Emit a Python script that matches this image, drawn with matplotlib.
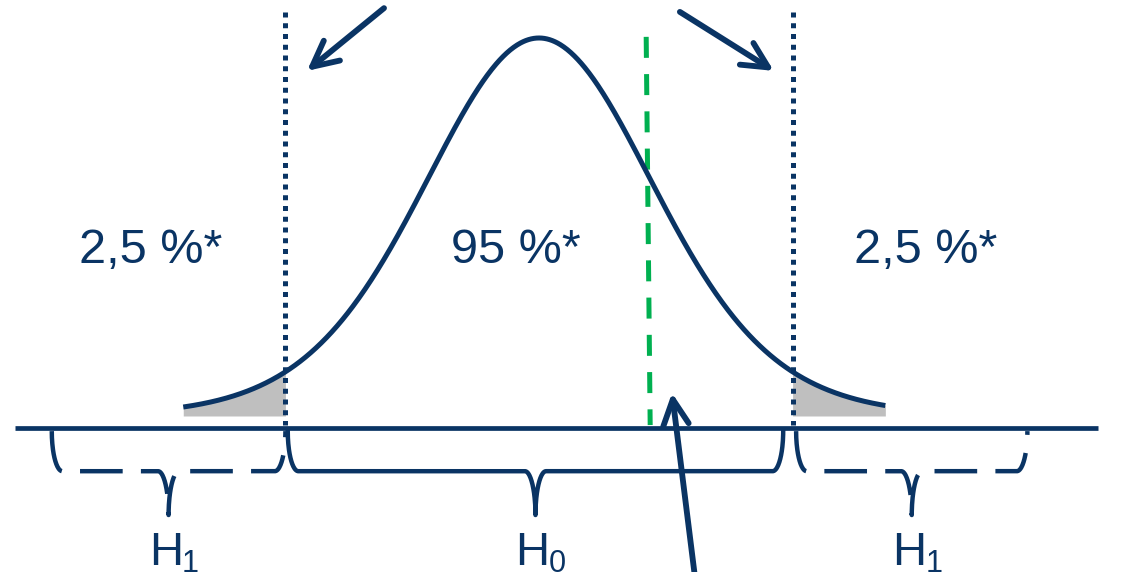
import numpy as np
import matplotlib
matplotlib.use("Agg")
import matplotlib.pyplot as plt
from matplotlib.patches import FancyArrowPatch

# ---- data (t-distribution two-sided test) ----
DF = 13                      # degrees of freedom of the drawn t curve
T_CRIT = 2.16                # critical value (2.5 % in each tail)
T_OBS = 0.93                 # observed test statistic (green dashed)
CURVE_RANGE = (-3.03, 2.95)  # drawn extent of the density curve
REGION_LABELS = ["2,5 %*", "95 %*", "2,5 %*"]
REGION_LABEL_T = [-3.31, -0.20, 3.29]
HYP_SPANS = [(-4.15, -2.16), (-2.14, 2.08), (2.19, 4.16)]
HYP_MAIN = ["H", "H", "H"]
HYP_SUB = ["1", "0", "1"]
HYP_DASHED = [True, False, True]
AXIS_RANGE = (-4.46, 4.76)
AXIS_LABEL = "t"

NAVY = "#0a3464"
GREEN = "#00b050"
GRAY = "#bfbfbf"
FONT = "Liberation Sans"

fig = plt.figure(figsize=(11.32, 5.72), dpi=100)
ax = fig.add_axes([0, 0, 1, 1])
ax.set_xlim(-4.591, 5.051)
ax.set_ylim(-0.4127, 1.1005)
ax.axis("off")


def rel_density(t):
    return (1 + t ** 2 / DF) ** (-(DF + 1) / 2)


# density curve
t = np.linspace(CURVE_RANGE[0], CURVE_RANGE[1], 800)
ax.plot(t, rel_density(t), color=NAVY, lw=3.6, solid_capstyle="butt", zorder=4)

# shaded tails
tl = np.linspace(CURVE_RANGE[0], -T_CRIT, 200)
ax.fill_between(tl, 0, rel_density(tl), color=GRAY, lw=0, zorder=2)
tr = np.linspace(T_CRIT, CURVE_RANGE[1], 200)
ax.fill_between(tr, 0, rel_density(tr), color=GRAY, lw=0, zorder=2)

# axis line
ax.plot(AXIS_RANGE, [-0.032, -0.032], color=NAVY, lw=3.4, solid_capstyle="butt", zorder=5)
ax.text(AXIS_RANGE[1] + 0.31, -0.146, AXIS_LABEL, fontsize=35, family=FONT,
        color=NAVY, ha="left", va="baseline")

# critical value dotted lines
for tc in (-T_CRIT, T_CRIT):
    ax.plot([tc, tc], [1.069, -0.024], color=NAVY, lw=3.6,
            linestyle=(0, (1, 1.15)), dash_capstyle="butt", zorder=3)

# observed statistic
ax.plot([T_OBS - 0.017, T_OBS + 0.017], [1.003, -0.024], color=GREEN, lw=3.6,
        linestyle=(0, (4.2, 3.25)), dash_capstyle="butt", zorder=3)

# region labels
for lab, xt in zip(REGION_LABELS, REGION_LABEL_T):
    ax.text(xt, 0.405, lab, fontsize=35, family=FONT, color=NAVY,
            ha="center", va="baseline")


def brace(x0, x1, top, mid, bot, rx):
    xc = (x0 + x1) / 2
    th = np.linspace(0, np.pi / 2, 40)
    a1x = x0 + rx - rx * np.cos(th)
    a1y = top - (top - mid) * np.sin(th)
    a2x = xc - rx + rx * np.sin(th)
    a2y = bot + (mid - bot) * np.cos(th)
    b2x = (2 * xc - a2x)[::-1]
    b2y = a2y[::-1]
    b1x = (x0 + x1 - a1x)[::-1]
    b1y = a1y[::-1]
    xs = np.concatenate([a1x, a2x, b2x, b1x])
    ys = np.concatenate([a1y, a2y, b2y, b1y])
    return xs, ys, xc


for (x0, x1), main, sub, dashed in zip(HYP_SPANS, HYP_MAIN, HYP_SUB, HYP_DASHED):
    xs, ys, xc = brace(x0, x1, -0.040, -0.146, -0.262, 0.09)
    ls = (0, (9.6, 4.1)) if dashed else "-"
    ax.plot(xs, ys, color=NAVY, lw=3.2, linestyle=ls, dash_capstyle="butt",
            solid_joinstyle="round", zorder=3)
    ax.text(xc - 0.17, -0.394, main, fontsize=34, family=FONT, color=NAVY,
            ha="left", va="baseline")
    ax.annotate(sub, xy=(xc - 0.17, -0.394), xytext=(24, -5),
                textcoords="offset points", fontsize=22, family=FONT,
                color=NAVY, ha="left", va="baseline")

# arrows
arrows = [((-1.32, 1.079), (-1.976, 0.913)),
          ((1.20, 1.069), (2.00, 0.913)),
          ((1.33, -0.43), (1.133, 0.061))]
for tail, tip in arrows:
    ax.add_patch(FancyArrowPatch(tail, tip,
                                 arrowstyle="->,head_length=0.4,head_width=0.2",
                                 mutation_scale=46, lw=4.2, color=NAVY,
                                 shrinkA=0, shrinkB=0, zorder=6))

fig.savefig("out.png", dpi=100)
